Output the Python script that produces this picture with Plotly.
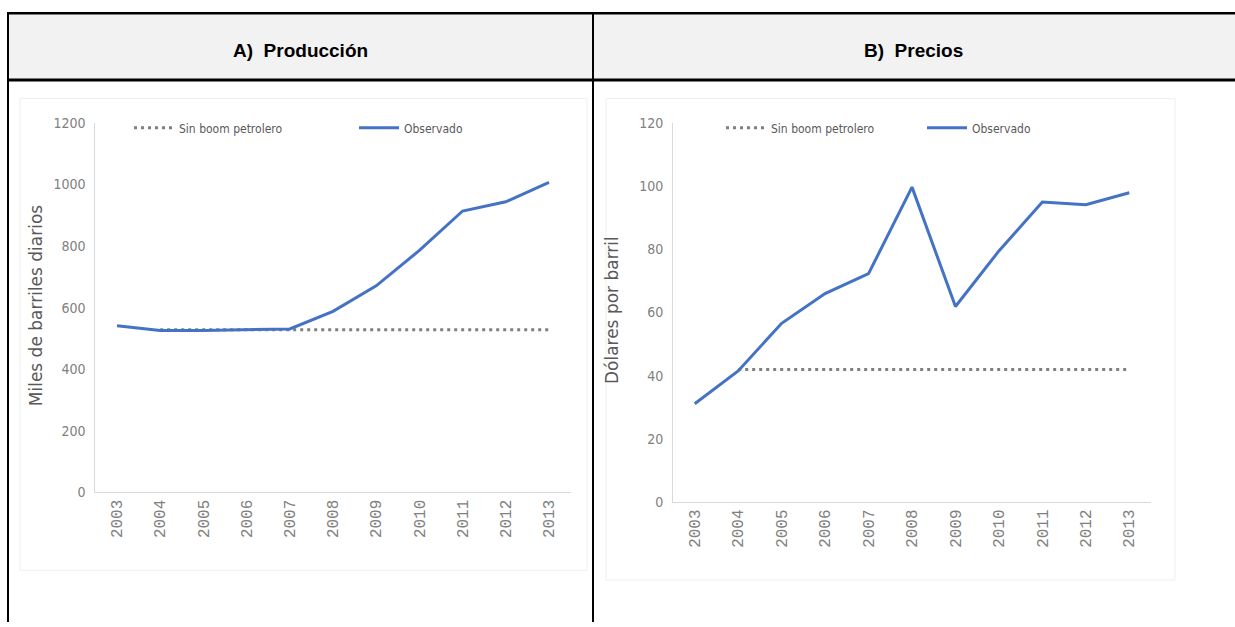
import plotly.graph_objects as go

W, H = 1235, 627

years = ["2003", "2004", "2005", "2006", "2007", "2008", "2009", "2010", "2011", "2012", "2013"]
prod_observado = [541, 526, 526, 529, 531, 588, 671, 786, 914, 944, 1007]
prod_sin_boom = [None, 528, 528, 528, 528, 528, 528, 528, 528, 528, 528]
precio_observado = [31.1, 41.5, 56.6, 66.0, 72.3, 99.7, 61.9, 79.5, 95.0, 94.1, 97.9]
precio_sin_boom = [None, 42, 42, 42, 42, 42, 42, 42, 42, 42, 42]

panel_titles = ["A)  Producción", "B)  Precios"]
y_titles = ["Miles de barriles diarios", "Dólares por barril"]
series_names = ["Sin boom petrolero", "Observado"]

BLUE = "#4472C4"
DOT = "#7f7f7f"
TICK = "#808080"
TXT = "#595959"
NARROW = "Liberation Sans Narrow, Arial Narrow, DejaVu Sans Condensed, sans-serif"


def px(x):
    return x / W


def py(y):
    return 1 - y / H


fig = go.Figure()

# Left panel
fig.add_trace(go.Scatter(x=years, y=prod_sin_boom, name=series_names[0], mode="lines",
                         line=dict(color=DOT, width=3, dash="3px,4px"),
                         xaxis="x", yaxis="y", legend="legend", legendrank=1))
fig.add_trace(go.Scatter(x=years, y=prod_observado, name=series_names[1], mode="lines",
                         line=dict(color=BLUE, width=3),
                         xaxis="x", yaxis="y", legend="legend", legendrank=2))
# Right panel
fig.add_trace(go.Scatter(x=years, y=precio_sin_boom, name=series_names[0], mode="lines",
                         line=dict(color=DOT, width=3, dash="3px,4px"),
                         xaxis="x2", yaxis="y2", legend="legend2", legendrank=1))
fig.add_trace(go.Scatter(x=years, y=precio_observado, name=series_names[1], mode="lines",
                         line=dict(color=BLUE, width=3),
                         xaxis="x2", yaxis="y2", legend="legend2", legendrank=2))

xcommon = dict(type="category", range=[-0.5, 10.5], tickangle=-90, showgrid=False,
               showline=True, linecolor="#d9d9d9", linewidth=1, ticks="",
               tickfont=dict(family="Liberation Mono, DejaVu Sans Mono, monospace", size=16, color=TICK),
               zeroline=False, fixedrange=True)
ycommon = dict(showgrid=False, showline=True, linecolor="#d9d9d9", linewidth=1, ticks="",
               tickfont=dict(family=NARROW, size=14, color=TICK), zeroline=False,
               ticklabelstandoff=6, fixedrange=True)

legend_font = dict(family=NARROW, size=12, color=TXT)

fig.update_layout(
    width=W, height=H,
    margin=dict(l=0, r=0, t=0, b=0),
    paper_bgcolor="white", plot_bgcolor="rgba(0,0,0,0)",
    xaxis=dict(domain=[px(95.4), px(570.6)], anchor="y", **xcommon),
    yaxis=dict(domain=[py(497), py(118)], anchor="x", range=[0, 1200], dtick=200, **ycommon),
    xaxis2=dict(domain=[px(673), px(1151)], anchor="y2", **xcommon),
    yaxis2=dict(domain=[py(507), py(118)], anchor="x2", range=[0, 120], dtick=20, **ycommon),
    legend=dict(orientation="h", x=px(129), y=py(123), xanchor="left", yanchor="middle",
                font=legend_font, bgcolor="rgba(0,0,0,0)",
                entrywidth=170, entrywidthmode="pixels", itemwidth=40),
    legend2=dict(orientation="h", x=px(721), y=py(123), xanchor="left", yanchor="middle",
                 font=legend_font, bgcolor="rgba(0,0,0,0)",
                 entrywidth=146, entrywidthmode="pixels", itemwidth=40),
)

shapes = []
# header fill
shapes.append(dict(type="rect", xref="paper", yref="paper", x0=px(8), x1=px(1236), y0=py(74), y1=py(5),
                   fillcolor="#f2f2f2", line=dict(width=0), layer="below"))
# faint chart panel frames
shapes.append(dict(type="rect", xref="paper", yref="paper", x0=px(20), x1=px(587), y0=py(577), y1=py(93),
                   line=dict(color="#eeeeee", width=1), layer="below"))
shapes.append(dict(type="rect", xref="paper", yref="paper", x0=px(606), x1=px(1175), y0=py(587), y1=py(93),
                   line=dict(color="#eeeeee", width=1), layer="below"))
# table lines
shapes.append(dict(type="line", xref="paper", yref="paper", x0=px(7), x1=px(1240), y0=py(5.5), y1=py(5.5),
                   line=dict(color="black", width=2.5)))
shapes.append(dict(type="line", xref="paper", yref="paper", x0=px(7), x1=px(1240), y0=py(74), y1=py(74),
                   line=dict(color="black", width=3)))
shapes.append(dict(type="line", xref="paper", yref="paper", x0=px(8), x1=px(8), y0=py(4.5), y1=py(630),
                   line=dict(color="black", width=2)))
shapes.append(dict(type="line", xref="paper", yref="paper", x0=px(593), x1=px(593), y0=py(4.5), y1=py(630),
                   line=dict(color="black", width=2)))
fig.update_layout(shapes=shapes)

header_font = dict(family="Liberation Sans, Arial, sans-serif", size=19, color="black")
title_font = dict(family="DejaVu Sans, Verdana, sans-serif", size=17, color=TXT)

annotations = []
annotations.append(dict(text=f"<b>{panel_titles[0]}</b>", xref="paper", yref="paper", x=px(300), y=py(44),
                        xanchor="center", yanchor="middle", showarrow=False, font=header_font))
annotations.append(dict(text=f"<b>{panel_titles[1]}</b>", xref="paper", yref="paper", x=px(913), y=py(44),
                        xanchor="center", yanchor="middle", showarrow=False, font=header_font))
annotations.append(dict(text=y_titles[0], xref="paper", yref="paper", x=px(36), y=py(305), textangle=-90,
                        xanchor="center", yanchor="middle", showarrow=False, font=title_font))
annotations.append(dict(text=y_titles[1], xref="paper", yref="paper", x=px(612), y=py(310), textangle=-90,
                        xanchor="center", yanchor="middle", showarrow=False, font=title_font))
annotations.append(dict(text=str(prod_sin_boom[-1]), xref="x", yref="y", x=years[-1], y=prod_sin_boom[-1],
                        xanchor="left", xshift=10, showarrow=False,
                        font=dict(family=NARROW, size=14, color=TXT)))
annotations.append(dict(text=str(precio_sin_boom[-1]), xref="x2", yref="y2", x=years[-1], y=precio_sin_boom[-1],
                        xanchor="left", xshift=12, showarrow=False,
                        font=dict(family=NARROW, size=14, color=TXT)))
fig.update_layout(annotations=annotations)

fig.write_html("out.html")
